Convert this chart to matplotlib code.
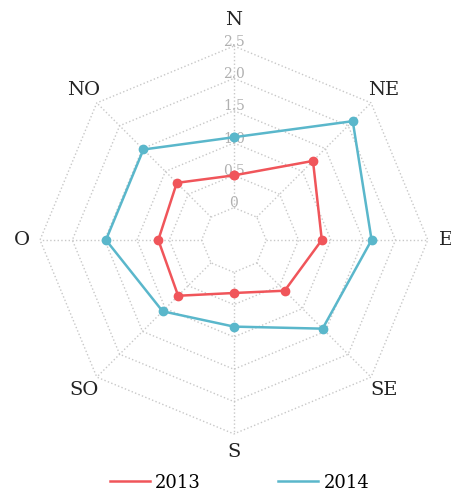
import numpy as np
import matplotlib
matplotlib.use("Agg")
import matplotlib.pyplot as plt

directions = ["N", "NE", "E", "SE", "S", "SO", "O", "NO"]
values_2013 = [0.50, 1.23, 0.86, 0.61, 0.32, 0.72, 0.67, 0.75]
values_2014 = [1.09, 2.10, 1.63, 1.44, 0.84, 1.06, 1.48, 1.48]
ring_values = [0, 0.5, 1.0, 1.5, 2.0, 2.5]
ring_labels = ["0", "0.5", "1.0", "1.5", "2.0", "2.5"]

red = "#f0555a"
blue = "#5ab7cb"
grid_color = "#c8c8c8"
serif = "DejaVu Serif"


def closed(seq):
    return list(seq) + [seq[0]]


def main():
    fig = plt.figure(figsize=(4.52, 4.93), dpi=100)
    ax = fig.add_axes([0.0885, 0.1197, 0.858, 0.787], projection="polar")
    ax.set_theta_zero_location("N")
    ax.set_theta_direction(-1)
    ax.set_ylim(0, 2.5)
    ax.set_rorigin(-0.5)
    ax.axis("off")

    angles = np.linspace(0, 2 * np.pi, len(directions), endpoint=False)

    # octagon rings and spokes
    for v in ring_values:
        ax.plot(closed(angles), [v] * (len(angles) + 1), color=grid_color,
                linestyle=":", linewidth=1, zorder=1, clip_on=False)
    for a in angles:
        ax.plot([a, a], [0, 2.5], color=grid_color, linestyle=":",
                linewidth=1, zorder=1, clip_on=False)

    for v, lab in zip(ring_values, ring_labels):
        ax.text(0, v + 0.07, lab, ha="center", va="center", color="#b0b0b0",
                fontsize=10, family=serif, zorder=2)

    for a, d in zip(angles, directions):
        r = 2.9 if d == "N" else 2.78
        ax.text(a, r, d, ha="center", va="center", fontsize=14,
                family=serif, color="#222222", clip_on=False)

    ax.plot(closed(angles), closed(values_2013), color=red, linewidth=1.8,
            marker="o", markersize=6, label="2013", zorder=3, clip_on=False)
    ax.plot(closed(angles), closed(values_2014), color=blue, linewidth=1.8,
            marker="o", markersize=6, label="2014", zorder=3, clip_on=False)

    handles = [plt.Line2D([], [], color=red, linewidth=1.8),
               plt.Line2D([], [], color=blue, linewidth=1.8)]
    fig.legend(handles, ["2013", "2014"], loc="lower center",
               bbox_to_anchor=(0.53, -0.03), ncol=2, frameon=False,
               handlelength=2.2, handletextpad=0.3, columnspacing=4.3,
               prop={"family": serif, "size": 13})

    fig.savefig("out.png", dpi=100)


if __name__ == "__main__":
    main()
